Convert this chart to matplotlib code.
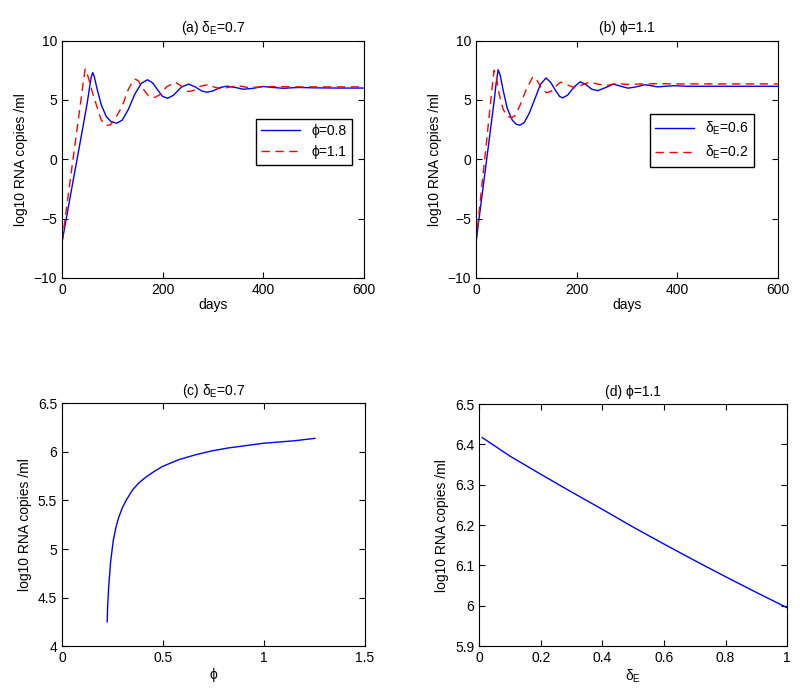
import numpy as np
import matplotlib
matplotlib.use('Agg')
import matplotlib.pyplot as plt

plt.rcParams['font.family'] = ['Liberation Sans', 'DejaVu Sans']
plt.rcParams['mathtext.fontset'] = 'custom'
plt.rcParams['mathtext.rm'] = 'Liberation Sans'
plt.rcParams['mathtext.it'] = 'Liberation Sans:italic'
plt.rcParams['font.size'] = 10

# (a) delta_E = 0.7, two phi values
days_a_phi08 = [0, 10, 20, 30, 40, 50, 55, 58, 61, 64, 70, 78, 88, 98, 109, 120, 132, 145, 158, 170,
                180, 192, 200, 210, 222, 238, 252, 265, 278, 288, 300, 315, 328, 345, 361, 380, 400,
                420, 440, 470, 500, 550, 600]
vals_a_phi08 = [-7.0, -4.65, -2.3, 0.0, 2.35, 4.7, 6.1, 6.9, 7.3, 7.0, 5.9, 4.6, 3.6, 3.15, 3.04, 3.3,
                4.2, 5.5, 6.4, 6.7, 6.45, 5.75, 5.3, 5.14, 5.4, 6.1, 6.33, 6.1, 5.75, 5.65, 5.75, 6.05,
                6.16, 6.05, 5.9, 5.98, 6.13, 6.05, 5.98, 6.05, 6.02, 6.0, 6.0]
days_a_phi11 = [0, 10, 20, 30, 38, 42, 46, 50, 53, 60, 69, 78, 88, 96, 104, 119, 132, 140, 146, 152,
                160, 172, 184, 195, 208, 225, 238, 251, 262, 275, 291, 305, 318, 335, 350, 370, 390,
                420, 460, 520, 600]
vals_a_phi11 = [-7.0, -3.8, -0.6, 2.55, 5.1, 6.4, 7.6, 7.2, 6.8, 5.7, 4.5, 3.3, 2.85, 2.9, 3.3, 4.4,
                5.9, 6.5, 6.75, 6.6, 6.0, 5.35, 5.2, 5.45, 6.1, 6.5, 6.15, 5.7, 5.8, 6.15, 6.3, 6.05,
                5.93, 6.1, 6.2, 6.05, 6.08, 6.13, 6.1, 6.1, 6.1]

# (b) phi = 1.1, two delta_E values
days_b_d06 = [0, 10, 20, 30, 36, 40, 44, 48, 54, 62, 72, 80, 87, 96, 106, 118, 128, 139, 148, 158,
              166, 172, 182, 195, 207, 218, 230, 242, 258, 273, 288, 302, 318, 335, 348, 360, 376,
              393, 420, 460, 600]
vals_b_d06 = [-7.0, -3.7, -0.4, 2.9, 4.9, 6.4, 7.55, 7.1, 5.8, 4.3, 3.3, 2.95, 2.87, 3.1, 3.9, 5.2,
              6.3, 6.85, 6.5, 5.8, 5.3, 5.17, 5.4, 6.1, 6.53, 6.3, 5.9, 5.78, 6.05, 6.33, 6.15, 5.99,
              6.1, 6.28, 6.2, 6.1, 6.15, 6.2, 6.15, 6.15, 6.15]
days_b_d02 = [0, 10, 20, 28, 32, 36, 40, 46, 54, 63, 71, 78, 88, 100, 113, 122, 130, 140, 150, 160,
              168, 180, 196, 210, 226, 240, 258, 280, 300, 330, 360, 400, 600]
vals_b_d02 = [-7.0, -2.9, 1.1, 4.4, 6.0, 7.5, 7.0, 5.5, 4.2, 3.6, 3.5, 3.7, 4.6, 5.9, 6.95, 6.6, 6.0,
              5.6, 5.75, 6.2, 6.5, 6.3, 6.02, 6.25, 6.5, 6.35, 6.2, 6.4, 6.3, 6.35, 6.37, 6.35, 6.35]

# (c) steady state vs phi
phi_c = [0.224, 0.225, 0.226, 0.227, 0.229, 0.231, 0.235, 0.240, 0.248, 0.255, 0.268, 0.28, 0.30,
         0.32, 0.35, 0.38, 0.415, 0.45, 0.497, 0.578, 0.66, 0.74, 0.82, 0.91, 1.0, 1.15, 1.253]
vals_c = [4.25, 4.33, 4.40, 4.45, 4.51, 4.60, 4.71, 4.85, 4.99, 5.10, 5.23, 5.32, 5.43, 5.51, 5.61,
          5.68, 5.74, 5.79, 5.85, 5.92, 5.97, 6.01, 6.04, 6.065, 6.09, 6.115, 6.14]

# (d) steady state vs delta_E
dE_d = [0.01, 0.1, 0.2, 0.3, 0.4, 0.5, 0.6, 0.7, 0.8, 0.9, 1.0]
vals_d = [6.417, 6.371, 6.326, 6.282, 6.239, 6.195, 6.153, 6.112, 6.072, 6.033, 5.995]

ylab = 'log10 RNA copies /ml'
dash = (0, (6, 4))

fig = plt.figure(figsize=(8, 7), dpi=100)
ax_a = fig.add_axes([0.0775, 0.603, 0.377, 0.339])
ax_b = fig.add_axes([0.595, 0.603, 0.3775, 0.339])
ax_c = fig.add_axes([0.0775, 0.077, 0.3785, 0.3467])
ax_d = fig.add_axes([0.599, 0.077, 0.385, 0.3457])

for ax in (ax_a, ax_b, ax_c, ax_d):
    ax.tick_params(direction='in', top=True, right=True, length=4, labelsize=10)
    for s in ax.spines.values():
        s.set_linewidth(0.8)

ax_a.plot(days_a_phi08, vals_a_phi08, color='b', lw=1.0, label='ϕ=0.8')
ax_a.plot(days_a_phi11, vals_a_phi11, color='r', lw=1.0, linestyle=dash, label='ϕ=1.1')
ax_a.set_xlim(0, 600)
ax_a.set_ylim(-10, 10)
ax_a.set_yticks([-10, -5, 0, 5, 10])
ax_a.set_xticks([0, 200, 400, 600])
ax_a.set_xlabel('days', labelpad=1)
ax_a.set_ylabel(ylab)
ax_a.set_title(r'(a) δ$_\mathrm{E}$=0.7', fontsize=10, pad=6)
ax_a.legend(loc='upper right', bbox_to_anchor=(0.985, 0.70), fancybox=False, edgecolor='black',
            framealpha=1, handlelength=2.8, fontsize=10, borderpad=0.4)

ax_b.plot(days_b_d06, vals_b_d06, color='b', lw=1.0, label=r'δ$_\mathrm{E}$=0.6')
ax_b.plot(days_b_d02, vals_b_d02, color='r', lw=1.0, linestyle=dash, label=r'δ$_\mathrm{E}$=0.2')
ax_b.set_xlim(0, 600)
ax_b.set_ylim(-10, 10)
ax_b.set_yticks([-10, -5, 0, 5, 10])
ax_b.set_xticks([0, 200, 400, 600])
ax_b.set_xlabel('days', labelpad=1)
ax_b.set_ylabel(ylab)
ax_b.set_title('(b) ϕ=1.1', fontsize=10, pad=6)
ax_b.legend(loc='upper right', bbox_to_anchor=(0.945, 0.72), fancybox=False, edgecolor='black',
            framealpha=1, handlelength=2.8, fontsize=10, borderpad=0.4)

ax_c.plot(phi_c, vals_c, color='b', lw=1.0)
ax_c.set_xlim(0, 1.5)
ax_c.set_ylim(4, 6.5)
ax_c.set_xticks([0, 0.5, 1, 1.5])
ax_c.set_xticklabels(['0', '0.5', '1', '1.5'])
ax_c.set_yticks([4, 4.5, 5, 5.5, 6, 6.5])
ax_c.set_yticklabels(['4', '4.5', '5', '5.5', '6', '6.5'])
ax_c.set_xlabel('ϕ', labelpad=2)
ax_c.set_ylabel(ylab)
ax_c.set_title(r'(c) δ$_\mathrm{E}$=0.7', fontsize=10, pad=6)

ax_d.plot(dE_d, vals_d, color='b', lw=1.0)
ax_d.set_xlim(0, 1)
ax_d.set_ylim(5.9, 6.5)
ax_d.set_xticks([0, 0.2, 0.4, 0.6, 0.8, 1])
ax_d.set_xticklabels(['0', '0.2', '0.4', '0.6', '0.8', '1'])
ax_d.set_yticks([5.9, 6.0, 6.1, 6.2, 6.3, 6.4, 6.5])
ax_d.set_yticklabels(['5.9', '6', '6.1', '6.2', '6.3', '6.4', '6.5'])
ax_d.set_xlabel(r'δ$_\mathrm{E}$', labelpad=2)
ax_d.set_ylabel(ylab)
ax_d.set_title('(d) ϕ=1.1', fontsize=10, pad=6)

fig.savefig('out.png', dpi=100)
